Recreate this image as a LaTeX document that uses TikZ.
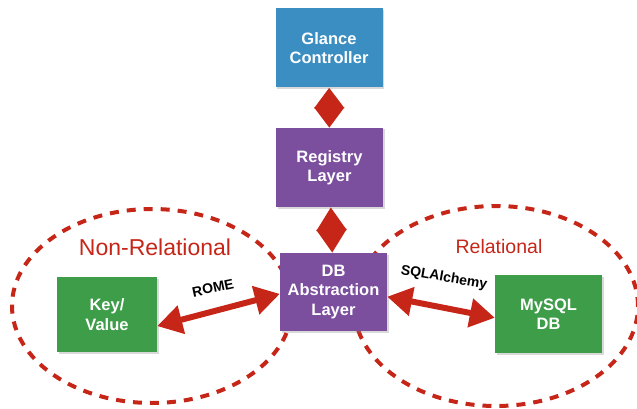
\documentclass[tikz,border=0pt]{standalone}
\usepackage{fontspec}
\setmainfont{Liberation Sans}
\usetikzlibrary{arrows.meta,shadows}
\definecolor{glanceblue}{HTML}{3A8EC2}
\definecolor{layerpurple}{HTML}{7B4E9E}
\definecolor{storegreen}{HTML}{3E9D48}
\definecolor{linkred}{HTML}{C62618}
\begin{document}
\begin{tikzpicture}[x=1pt,y=-1pt,
        box/.style={minimum width=107pt,minimum height=79pt,text=white,align=center,
            font=\bfseries\fontsize{16.5}{19.5}\selectfont,
            drop shadow={opacity=0.3,shadow xshift=1.5pt,shadow yshift=-1.5pt}},
        link/.style={linkred,line width=6pt,
            {Triangle[length=25pt,width=28pt]}-{Triangle[length=25pt,width=28pt]}},
        vlink/.style={linkred,line width=6pt,
            {Triangle[length=#1,width=29pt]}-{Triangle[length=#1,width=29pt]}},
        zone/.style={linkred,line width=4pt,dash pattern=on 9pt off 8pt},
        tag/.style={font=\bfseries\fontsize{14}{16}\selectfont},
        zonetag/.style={text=linkred}] %Capas de almacenamiento de Glance
    \useasboundingbox (0,0) rectangle (637,409);

    \draw[zone] (152,306) ellipse [x radius=140pt, y radius=97pt];
    \draw[zone] (496,306) ellipse [x radius=142pt, y radius=100pt];

    \node[zonetag,font=\fontsize{23}{26}\selectfont] (nonrel) at (155,247) {Non-Relational};
    \node[zonetag,font=\fontsize{19.5}{22}\selectfont] (rel) at (499,247) {Relational};

    \node[box,fill=glanceblue] (glance) at (329,48) {Glance\\Controller};
    \node[box,fill=layerpurple] (registry) at (329.5,167.5) {Registry\\Layer};
    \node[box,fill=layerpurple,minimum height=78pt] (db) at (333.5,292) {DB\\Abstraction\\Layer};
    \node[box,fill=storegreen,minimum width=100pt,minimum height=75pt] (kv) at (107,314.5) {Key/\\Value};
    \node[box,fill=storegreen,minimum height=78pt] (mysql) at (548.5,314) {MySQL\\DB};

    \draw[vlink=20.5pt] (glance) -- (registry);
    \draw[vlink=23.5pt] (registry) -- (db);
    \draw[link] (kv.-13) -- (db.182);
    \draw[link] (db.-5) -- (mysql.184);

    \node[tag,rotate=12] (rome) at (213,288) {ROME};
    \node[tag,rotate=-10] (sqla) at (444,278) {SQLAlchemy};
\end{tikzpicture}
\end{document}
